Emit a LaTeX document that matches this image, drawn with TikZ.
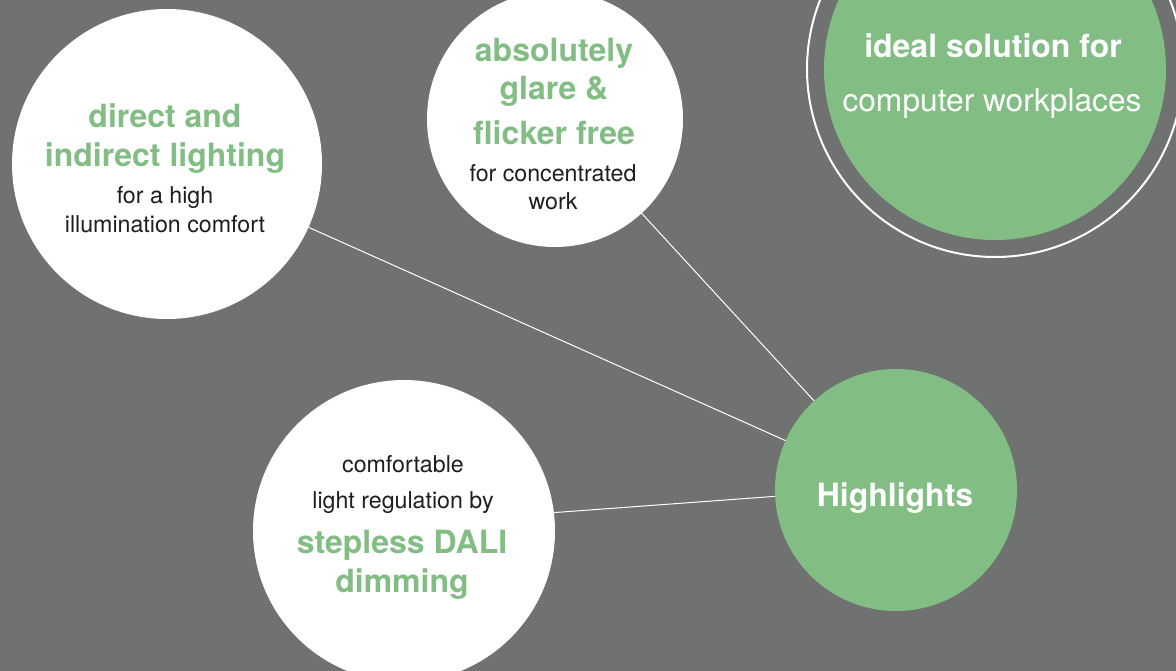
\documentclass[tikz,border=0pt]{standalone}
\usepackage{fontspec}
\setmainfont{TeX Gyre Heros}
\definecolor{bggray}{HTML}{6F7270}
\definecolor{leafgreen}{HTML}{82BD84}
\definecolor{inkblack}{HTML}{1E1E1E}
\begin{document}
\begin{tikzpicture}[x=1pt,y=-1pt,
  bubble/.style={circle,inner sep=0pt,outer sep=0pt,fill=white},
  greenbubble/.style={circle,inner sep=0pt,outer sep=0pt,fill=leafgreen},
  ringstyle/.style={circle,inner sep=0pt,outer sep=0pt,draw=white,line width=2pt},
  conn/.style={draw=white,line width=1pt},
  headg/.style={anchor=base,inner sep=0pt,text=leafgreen,font=\fontsize{32}{32}\selectfont\bfseries},
  headw/.style={anchor=base,inner sep=0pt,text=white,font=\fontsize{32}{32}\selectfont\bfseries},
  lightw/.style={anchor=base,inner sep=0pt,text=white,font=\fontsize{31.7}{31.7}\selectfont},
  bodyb/.style={anchor=base,inner sep=0pt,text=inkblack,font=\fontsize{23.2}{23.2}\selectfont}]
\fill[bggray] (0,0) rectangle (1176,671);
\useasboundingbox (0,0) rectangle (1176,671);
% circles
\node[ringstyle,minimum size=376pt] (ring) at (995,69) {};
\node[greenbubble,minimum size=342pt] (ideal) at (995,69) {};
\node[bubble,minimum size=310pt] (direct) at (167,164) {};
\node[bubble,minimum size=256pt] (glare) at (555,119) {};
\node[bubble,minimum size=302pt] (dali) at (404,531) {};
\node[greenbubble,minimum size=242pt] (hl) at (896,490) {};
% connectors
\draw[conn] (direct) -- (hl);
\draw[conn] (glare) -- (hl);
\draw[conn] (dali.{7.6}) -- (hl.{183.8});
% texts
\node[headw] (t1) at (993,58) {ideal solution for};
\node[lightw] (t2) at (992,112) {computer workplaces};
\node[headg] (t3) at (165,128) {direct and};
\node[headg] (t4) at (165,167) {indirect lighting};
\node[bodyb] (t5) at (165,204) {for a high};
\node[bodyb] (t6) at (165,233) {illumination comfort};
\node[headg] (t7) at (554,62) {absolutely};
\node[headg] (t8) at (554,100) {glare \&};
\node[headg] (t9) at (554,145) {flicker free};
\node[bodyb] (t10) at (553,182) {for concentrated};
\node[bodyb] (t11) at (553,210) {work};
\node[bodyb] (t12) at (403,472) {comfortable};
\node[bodyb] (t13) at (403,508) {light regulation by};
\node[headg] (t14) at (402,553) {stepless DALI};
\node[headg] (t15) at (402,592) {dimming};
\node[headw] (t16) at (895,506) {Highlights};
\end{tikzpicture}
\end{document}
